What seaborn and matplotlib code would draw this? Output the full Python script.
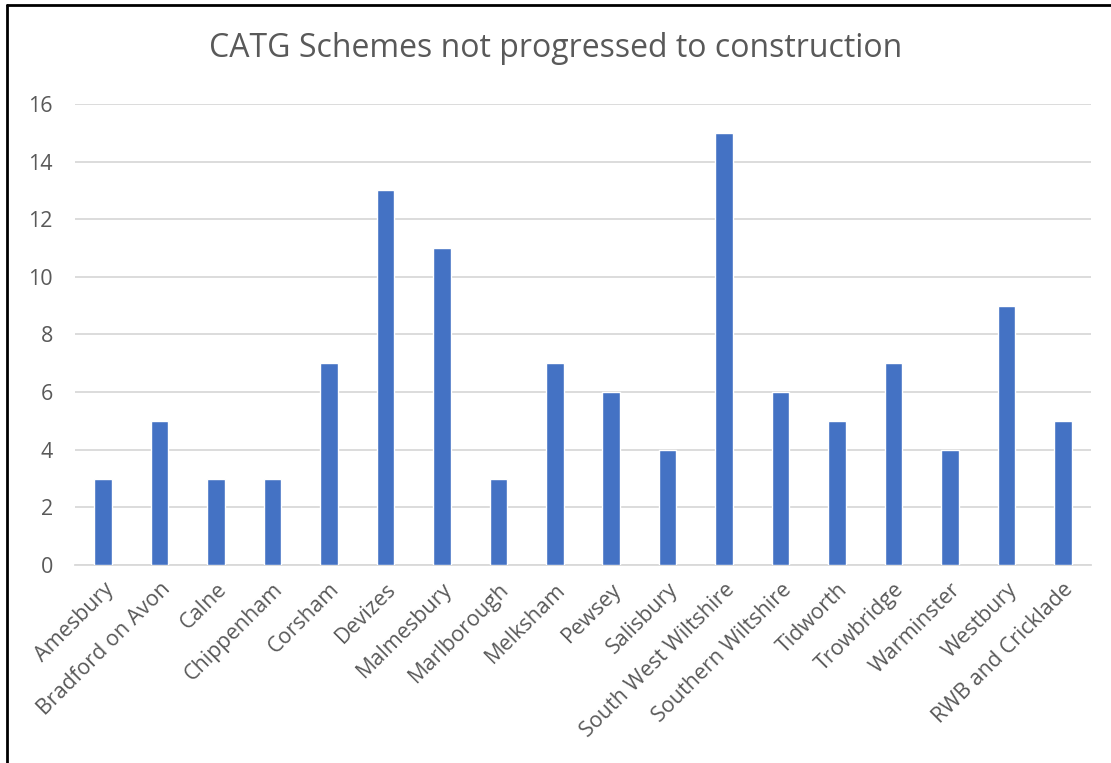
import numpy as np
import matplotlib
matplotlib.use("Agg")
import matplotlib.pyplot as plt
import pandas as pd
import seaborn as sns

areas = ["Amesbury", "Bradford on Avon", "Calne", "Chippenham", "Corsham",
         "Devizes", "Malmesbury", "Marlborough", "Melksham", "Pewsey",
         "Salisbury", "South West Wiltshire", "Southern Wiltshire", "Tidworth",
         "Trowbridge", "Warminster", "Westbury", "RWB and Cricklade"]
schemes = [3, 5, 3, 3, 7, 13, 11, 3, 7, 6, 4, 15, 6, 5, 7, 4, 9, 5]
yticks = [0, 2, 4, 6, 8, 10, 12, 14, 16]

sns.set_theme(style="white")
plt.rcParams["font.family"] = ["Open Sans", "DejaVu Sans"]

df = pd.DataFrame({"area": areas, "schemes": schemes})

fig = plt.figure(figsize=(11.11, 7.63), dpi=100)
ax = fig.add_axes([0.0675, 0.2595, 0.9145, 0.6042])

sns.barplot(data=df, x="area", y="schemes", color="#4472C4", width=0.31,
            saturation=1, ax=ax, zorder=3)

ax.set_ylim(0, 16)
ax.set_xlim(-0.5, len(areas) - 0.5)
ax.set_yticks(yticks)
ax.set_yticklabels([str(t) for t in yticks])
ax.yaxis.grid(True, color="#D9D9D9", linewidth=1.3, zorder=0)
ax.set_axisbelow(True)
for s in ["top", "right", "left"]:
    ax.spines[s].set_visible(False)
ax.spines["bottom"].set_color("#D9D9D9")
ax.spines["bottom"].set_linewidth(1.3)
ax.set_xlabel("")
ax.set_ylabel("")
ax.tick_params(axis="both", length=0, colors="#595959", labelsize=15.5)
ax.tick_params(axis="y", pad=16)
ax.tick_params(axis="x", pad=10)
plt.setp(ax.get_xticklabels(), rotation=45, ha="right", rotation_mode="anchor")

fig.text(0.5, 0.937, "CATG Schemes not progressed to construction",
         ha="center", va="center", fontsize=23, color="#595959")

# black frame, left and top only visible
fig.add_artist(plt.Line2D([0.006, 0.006], [0, 0.994], color="black",
                          linewidth=2, transform=fig.transFigure))
fig.add_artist(plt.Line2D([0.006, 1], [0.994, 0.994], color="black",
                          linewidth=2, transform=fig.transFigure))

fig.savefig("out.png", dpi=100, facecolor="white")
